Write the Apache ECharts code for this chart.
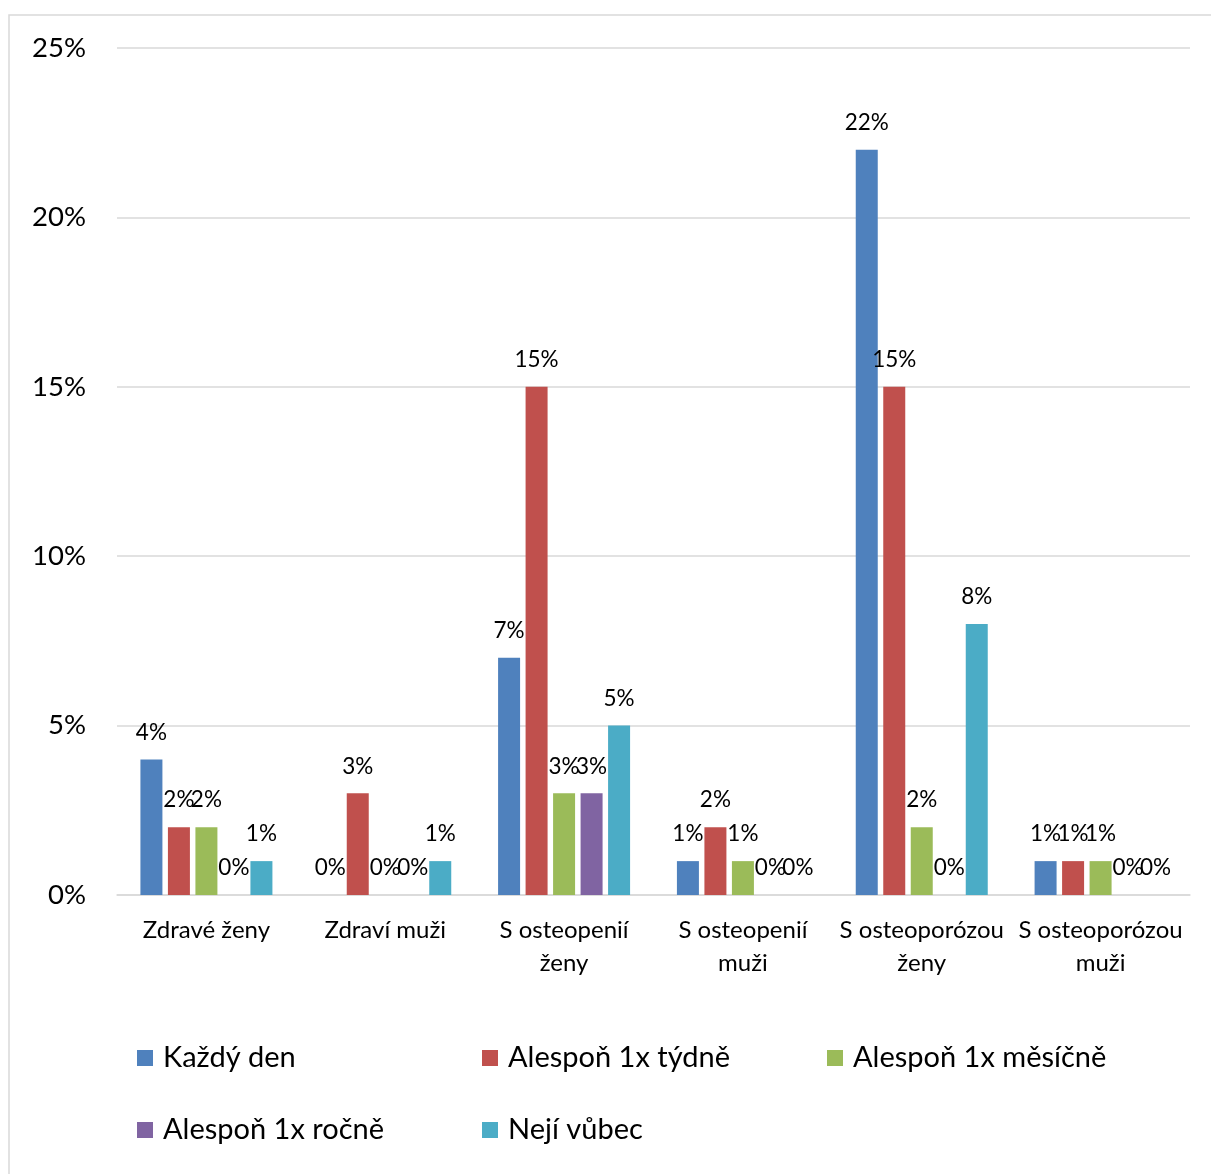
<!DOCTYPE html>
<html>
<head>
<meta charset="utf-8">
<script src="https://cdn.jsdelivr.net/npm/echarts@6/dist/echarts.min.js"></script>
<style>
  html, body { margin: 0; padding: 0; background: #fff; }
  #chart { width: 1211px; height: 1174px; }
</style>
</head>
<body>
<div id="chart"></div>
<script>
// Categories (patient groups) and the share of each consumption frequency, in percent
const categories = [
  'Zdravé ženy',
  'Zdraví muži',
  'S osteopenií\nženy',
  'S osteopenií\nmuži',
  'S osteoporózou\nženy',
  'S osteoporózou\nmuži'
];
const seriesNames = ['Každý den', 'Alespoň 1x týdně', 'Alespoň 1x měsíčně', 'Alespoň 1x ročně', 'Nejí vůbec'];
const kazdyDen     = [4, 0, 7, 1, 22, 1];
const tydne        = [2, 3, 15, 2, 15, 1];
const mesicne      = [2, 0, 3, 1, 2, 1];
const rocne        = [0, 0, 3, 0, 0, 0];
const nejiVubec    = [1, 1, 5, 0, 8, 0];
const yTicks = { min: 0, max: 25, interval: 5 };

const colors = ['#4f81bd', '#c0504d', '#9bbb59', '#8064a2', '#4bacc6'];
const values = [kazdyDen, tydne, mesicne, rocne, nejiVubec];
const FONT = 'Lato';

const chart = echarts.init(document.getElementById('chart'));

// Legend placed in a three-column grid, one component per entry
const legendPos = [
  { left: 137, top: 1043 }, { left: 482, top: 1043 }, { left: 827, top: 1043 },
  { left: 137, top: 1115 }, { left: 482, top: 1115 }
];
const legends = seriesNames.map((name, i) => ({
  data: [name],
  left: legendPos[i].left,
  top: legendPos[i].top,
  padding: 0,
  icon: 'rect',
  itemWidth: 16,
  itemHeight: 16,
  itemGap: 10,
  selectedMode: false,
  textStyle: { fontFamily: FONT, fontSize: 29, color: '#000', lineHeight: 30, padding: [0, 0, 0, 5] }
}));

chart.setOption({
  animation: false,
  backgroundColor: '#fff',
  color: colors,
  textStyle: { fontFamily: FONT },
  graphic: [{
    type: 'rect',
    shape: { x: 9, y: 15, width: 1300, height: 1300 },
    style: { fill: 'none', stroke: '#d9d9d9', lineWidth: 1.5 },
    silent: true,
    z: -10
  }],
  legend: legends,
  grid: { left: 117, right: 21, top: 48, bottom: 279, containLabel: false },
  xAxis: {
    type: 'category',
    data: categories,
    axisTick: { show: false },
    axisLine: { lineStyle: { color: '#d9d9d9', width: 1.5 } },
    axisLabel: {
      interval: 0,
      margin: 19,
      fontFamily: FONT,
      fontSize: 24,
      lineHeight: 33,
      color: '#000'
    }
  },
  yAxis: {
    type: 'value',
    min: yTicks.min,
    max: yTicks.max,
    interval: yTicks.interval,
    axisLine: { show: false },
    axisTick: { show: false },
    splitLine: { lineStyle: { color: '#d9d9d9', width: 1.5 } },
    axisLabel: {
      formatter: '{value}%',
      margin: 31,
      fontFamily: FONT,
      fontSize: 27.5,
      color: '#000'
    }
  },
  series: seriesNames.map((name, i) => ({
    name,
    type: 'bar',
    data: values[i],
    barWidth: 22,
    barGap: '25%',
    itemStyle: { color: colors[i] },
    label: {
      show: true,
      position: 'top',
      distance: 15,
      formatter: '{c}%',
      fontFamily: FONT,
      fontSize: 22.5,
      lineHeight: 24,
      color: '#000'
    }
  }))
});
</script>
</body>
</html>
